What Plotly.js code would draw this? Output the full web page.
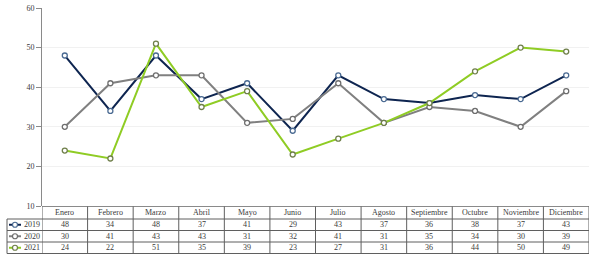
<!DOCTYPE html>
<html><head><meta charset="utf-8">
<script src="https://cdn.plot.ly/plotly-3.0.1.min.js"></script>
<style>html,body{margin:0;padding:0;background:#fff}#c{width:590px;height:260px}</style>
</head><body><div id="c"></div>
<script>
const months = ['Enero','Febrero','Marzo','Abril','Mayo','Junio','Julio','Agosto','Septiembre','Octubre','Noviembre','Diciembre'];
const seriesNames = ['2019','2020','2021'];
const v2019 = [48,34,48,37,41,29,43,37,36,38,37,43];
const v2020 = [30,41,43,43,31,32,41,31,35,34,30,39];
const v2021 = [24,22,51,35,39,23,27,31,36,44,50,49];
const colors = ['#0e2550','#808080','#8fcc24'];
const markerLines = ['#4a6a92','#6e6e6e','#6f7f4a'];
const values = [v2019, v2020, v2021];

const W = 590, H = 260, L = 42, R = 1, T = 8, B = 54;
const plotH = H - T - B, plotW = W - L - R;
const py = Y => (H - B - Y) / plotH;     // pixel Y -> paper y
const px = X => (X - L) / plotW;         // pixel X -> paper x
const font = 'Liberation Serif, Times New Roman, serif';
const txtColor = '#3a3a3a';
const border = '#5f5f5f';

const traces = values.map((v, i) => ({
  type: 'scatter', mode: 'lines+markers', name: seriesNames[i],
  x: months, y: v,
  line: {color: colors[i], width: 2},
  marker: {symbol: 'circle', size: 5, color: '#ffffff', line: {color: markerLines[i], width: 1.3}},
  cliponaxis: false, showlegend: false
}));

// table geometry (pixels)
const rowTops = [206.5, 219, 230.5, 242, 253.5];
const shapes = [];
const annotations = [];
shapes.push({type:'line', xref:'paper', yref:'paper', x0:0, x1:1, y0:py(rowTops[0]), y1:py(rowTops[0]), line:{color:'#8a8a8a', width:1}});
for (let r = 1; r < rowTops.length; r++) {
  shapes.push({type:'line', xref:'paper', yref:'paper', x0:px(7), x1:1, y0:py(rowTops[r]), y1:py(rowTops[r]), line:{color:border, width:1}});
}
for (let i = 0; i <= months.length; i++) {
  shapes.push({type:'line', xref:'x', yref:'paper', x0:i-0.5, x1:i-0.5, y0:py(rowTops[0]), y1:py(rowTops[4]), line:{color:border, width:1}});
}
shapes.push({type:'line', xref:'paper', yref:'paper', x0:px(7), x1:px(7), y0:py(rowTops[1]), y1:py(rowTops[4]), line:{color:border, width:1}});

months.forEach((m, i) => {
  annotations.push({xref:'x', yref:'paper', x:i, y:py((rowTops[0]+rowTops[1])/2), text:m, showarrow:false,
    font:{family:font, size:8, color:txtColor}, xanchor:'center', yanchor:'middle'});
});
values.forEach((v, s) => {
  const yc = py((rowTops[s+1]+rowTops[s+2])/2);
  v.forEach((val, i) => {
    annotations.push({xref:'x', yref:'paper', x:i, y:yc, text:String(val), showarrow:false,
      font:{family:font, size:8, color:txtColor}, xanchor:'center', yanchor:'middle'});
  });
  shapes.push({type:'line', xref:'paper', yref:'paper', x0:px(9), x1:px(21), y0:yc, y1:yc, line:{color:colors[s], width:2}});
  shapes.push({type:'circle', xref:'paper', yref:'paper', xsizemode:'pixel', ysizemode:'pixel',
    xanchor:px(15), yanchor:yc, x0:-2.5, x1:2.5, y0:-2.5, y1:2.5,
    fillcolor:'#ffffff', line:{color:markerLines[s], width:1.2}});
  annotations.push({xref:'paper', yref:'paper', x:px(22), y:yc, text:seriesNames[s], showarrow:false,
    font:{family:font, size:8, color:txtColor}, xanchor:'left', yanchor:'middle'});
});

const layout = {
  width: W, height: H,
  margin: {l:L, r:R, t:T, b:B, pad:0},
  paper_bgcolor:'#ffffff', plot_bgcolor:'#ffffff',
  showlegend:false,
  xaxis: {type:'category', range:[-0.5, 11.5], showticklabels:false, showgrid:false, zeroline:false, showline:false, ticks:''},
  yaxis: {range:[10,60], dtick:10, tick0:10, showline:true, linecolor:'#8a8a8a', linewidth:1,
    ticks:'outside', ticklen:5, tickcolor:'#8a8a8a', gridcolor:'#f1f1f1', zeroline:false,
    tickfont:{family:font, size:8, color:txtColor}},
  shapes, annotations
};
Plotly.newPlot('c', traces, layout, {displayModeBar:false, staticPlot:true});
</script></body></html>
